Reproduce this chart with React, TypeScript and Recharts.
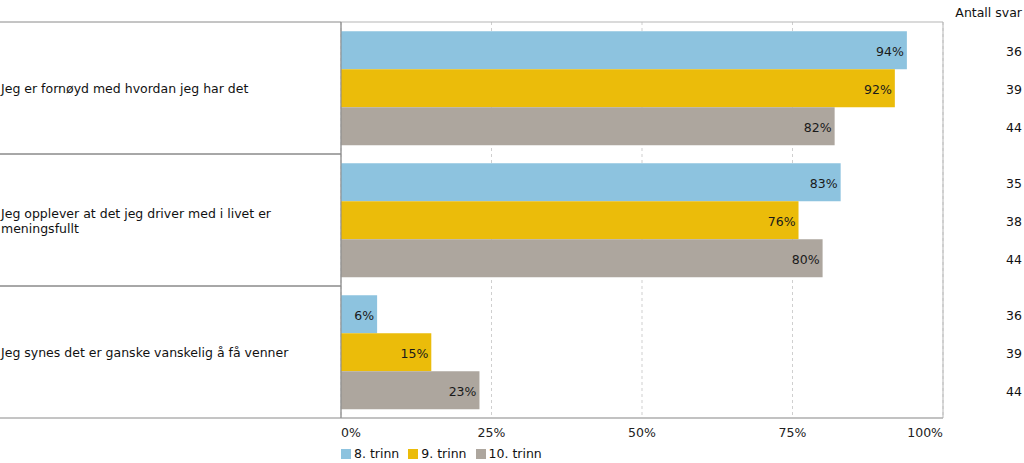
import React from 'react';
import { BarChart, Bar, XAxis, YAxis, CartesianGrid, LabelList, Legend, ReferenceArea } from 'recharts';

const categories = [
  'Jeg er fornøyd med hvordan jeg har det',
  'Jeg opplever at det jeg driver med i livet er meningsfullt',
  'Jeg synes det er ganske vanskelig å få venner',
];
const seriesNames = ['8. trinn', '9. trinn', '10. trinn'];
const values8 = [94, 83, 6];
const values9 = [92, 76, 15];
const values10 = [82, 80, 23];
const counts8 = [36, 35, 36];
const counts9 = [39, 38, 39];
const counts10 = [44, 44, 44];
const xTicks = [0, 25, 50, 75, 100];
const countHeader = 'Antall svar';

const colors = ['#8DC3DF', '#EBBC0A', '#ADA69E'];
const FONT = '"DejaVu Sans", Verdana, sans-serif';
const FS = 12.5;

const W = 1024;
const H = 463;
const LEFT = 341;
const TOP = 22;
const RIGHT_M = 81;
const XAXIS_H = 45;
const PLOT_H = H - TOP - XAXIS_H;

const data = categories.map((name, i) => ({
  name,
  s8: values8[i],
  s9: values9[i],
  s10: values10[i],
  n8: counts8[i],
  n9: counts9[i],
  n10: counts10[i],
}));

function wrap(text: string, maxChars: number): string[] {
  const words = text.split(' ');
  const lines: string[] = [];
  let cur = '';
  for (const w of words) {
    const next = cur ? cur + ' ' + w : w;
    if (next.length > maxChars && cur) {
      lines.push(cur);
      cur = w;
    } else cur = next;
  }
  if (cur) lines.push(cur);
  return lines;
}

const band = PLOT_H / categories.length;

const YTick = (props: any) => {
  const { y, payload } = props;
  const lines = wrap(String(payload.value), 46);
  const lh = 15;
  const startY = y - ((lines.length - 1) * lh) / 2;
  return (
    <g>
      <line x1={0} x2={LEFT} y1={y - band / 2} y2={y - band / 2} stroke="#8a8a8a" strokeWidth={1} />
      <line x1={0} x2={LEFT} y1={y + band / 2} y2={y + band / 2} stroke="#8a8a8a" strokeWidth={1} />
      <text x={1} y={startY} fontFamily={FONT} fontSize={FS} fill="#111" dominantBaseline="central">
        {lines.map((l, i) => (
          <tspan key={i} x={1} dy={i === 0 ? 0 : lh}>{l}</tspan>
        ))}
      </text>
    </g>
  );
};

const XTick = (props: any) => {
  const { x, y, payload, index } = props;
  const anchor = index === 0 ? 'start' : index === xTicks.length - 1 ? 'end' : 'middle';
  return (
    <text x={x} y={y + 6} textAnchor={anchor} fontFamily={FONT} fontSize={FS} fill="#222" dominantBaseline="central">
      {payload.value}%
    </text>
  );
};

const ValueLabel = (props: any) => {
  const { x, y, width, height, value } = props;
  return (
    <text x={x + width - 3} y={y + height / 2 + 1} textAnchor="end" fontFamily={FONT} fontSize={FS} fill="#1a1a1a" dominantBaseline="central">
      {value}%
    </text>
  );
};

const CountLabel = (props: any) => {
  const { y, height, value } = props;
  return (
    <text x={W - 2} y={y + height / 2 + 1} textAnchor="end" fontFamily={FONT} fontSize={FS} fill="#111" dominantBaseline="central">
      {value}
    </text>
  );
};

const LegendContent = () => (
  <div style={{ display: 'flex', fontFamily: FONT, fontSize: FS, color: '#111', whiteSpace: 'nowrap' }}>
    {seriesNames.map((n, i) => (
      <div key={n} style={{ display: 'flex', alignItems: 'center', marginRight: 9 }}>
        <span style={{ display: 'inline-block', width: 10, height: 10, background: colors[i], marginRight: 3 }} />
        <span>{n}</span>
      </div>
    ))}
  </div>
);

export default function App() {
  return (
    <div style={{ position: 'absolute', left: 0, top: 0, width: W, height: H, background: '#fff' }}>
      <BarChart
        width={W}
        height={H}
        data={data}
        layout="vertical"
        margin={{ top: TOP, right: RIGHT_M, bottom: 0, left: 0 }}
        barCategoryGap="7%"
        barGap={0}
      >
        <CartesianGrid horizontal={false} vertical stroke="#cfcfcf" strokeDasharray="3 3" />
        <ReferenceArea x1={0} x2={100} fill="none" stroke="#b5b5b5" strokeWidth={1} />
        <XAxis
          type="number"
          domain={[0, 100]}
          ticks={xTicks}
          height={XAXIS_H}
          tick={<XTick />}
          tickLine={false}
          axisLine={{ stroke: '#aaaaaa' }}
          interval={0}
        />
        <YAxis
          type="category"
          dataKey="name"
          width={LEFT}
          tick={<YTick />}
          tickLine={false}
          axisLine={{ stroke: '#8a8a8a' }}
          interval={0}
        />
        <Legend
          layout="horizontal"
          verticalAlign="middle"
          align="center"
          content={<LegendContent />}
          wrapperStyle={{ position: 'absolute', left: LEFT, top: 446, width: 'auto', height: 14 }}
        />
        <Bar dataKey="s8" name={seriesNames[0]} fill={colors[0]} isAnimationActive={false}>
          <LabelList dataKey="s8" content={<ValueLabel />} />
          <LabelList dataKey="n8" content={<CountLabel />} />
        </Bar>
        <Bar dataKey="s9" name={seriesNames[1]} fill={colors[1]} isAnimationActive={false}>
          <LabelList dataKey="s9" content={<ValueLabel />} />
          <LabelList dataKey="n9" content={<CountLabel />} />
        </Bar>
        <Bar dataKey="s10" name={seriesNames[2]} fill={colors[2]} isAnimationActive={false}>
          <LabelList dataKey="s10" content={<ValueLabel />} />
          <LabelList dataKey="n10" content={<CountLabel />} />
        </Bar>
      </BarChart>
      <div style={{ position: 'absolute', right: 2, top: 5, fontFamily: FONT, fontSize: FS, color: '#111' }}>
        {countHeader}
      </div>
    </div>
  );
}
